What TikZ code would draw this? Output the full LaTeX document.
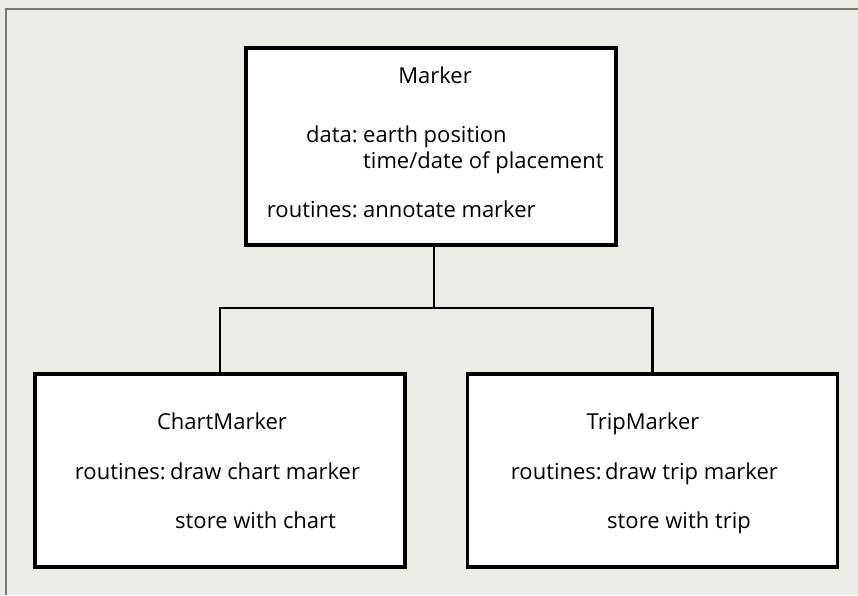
\documentclass[tikz,border=0pt]{standalone}
\usepackage{fontspec}
\setmainfont{Open Sans}
\usepackage{xcolor}
\usepackage{tikz}
\usetikzlibrary{positioning, calc}
\definecolor{paper}{RGB}{236,236,231}
\definecolor{framegray}{RGB}{120,120,120}

\begin{document}
\begin{tikzpicture}[x=1pt, y=-1pt,
    classbox/.style={draw=black, line width=3.2pt, fill=white, minimum width=370pt, inner sep=0pt},
    txt/.style={inner sep=0pt, font=\fontsize{22}{26}\selectfont},
    link/.style={draw=black, line width=2.4pt}]

    % --- Paper and outer frame ---
    \fill[paper] (0,0) rectangle (858,595);
    \useasboundingbox (0,0) rectangle (858,595);
    \draw[framegray, line width=1.3pt] (858,9) -- (6,9) -- (6,595);

    % --- Class boxes ---
    \node[classbox, minimum height=197pt] (marker) at (431,146.5) {};
    \node[classbox, minimum height=193pt] (chart) at (220,470.5) {};
    \node[classbox, minimum height=193pt] (trip) at (652.5,470.5) {};

    % --- Marker texts ---
    \node[txt, anchor=base] (markername) at (435,83) {Marker};
    \node[txt, anchor=base east] (markerdata) at (358,142) {data:};
    \node[txt, anchor=base west] (markerpos) at (363,142) {earth position};
    \node[txt, anchor=base west] (markertime) at (363,168) {time/date of placement};
    \node[txt, anchor=base east] (markerrout) at (358,217) {routines:};
    \node[txt, anchor=base west] (markerannot) at (363,217) {annotate marker};

    % --- ChartMarker texts ---
    \node[txt, anchor=base] (chartname) at (222,429) {ChartMarker};
    \node[txt, anchor=base east] (chartrout) at (166,479) {routines:};
    \node[txt, anchor=base west] (chartdraw) at (170,479) {draw chart marker};
    \node[txt, anchor=base west] (chartstore) at (175,528) {store with chart};

    % --- TripMarker texts ---
    \node[txt, anchor=base] (tripname) at (643,429) {TripMarker};
    \node[txt, anchor=base east] (triprout) at (602,479) {routines:};
    \node[txt, anchor=base west] (tripdraw) at (605,479) {draw trip marker};
    \node[txt, anchor=base west] (tripstore) at (607,528) {store with trip};

    % --- Inheritance lines ---
    \coordinate (bus) at (434,308);
    \draw[link] (marker.south -| bus) -- (bus);
    \draw[link] (chart.north) |- (bus) -| (trip.north);

\end{tikzpicture}
\end{document}
